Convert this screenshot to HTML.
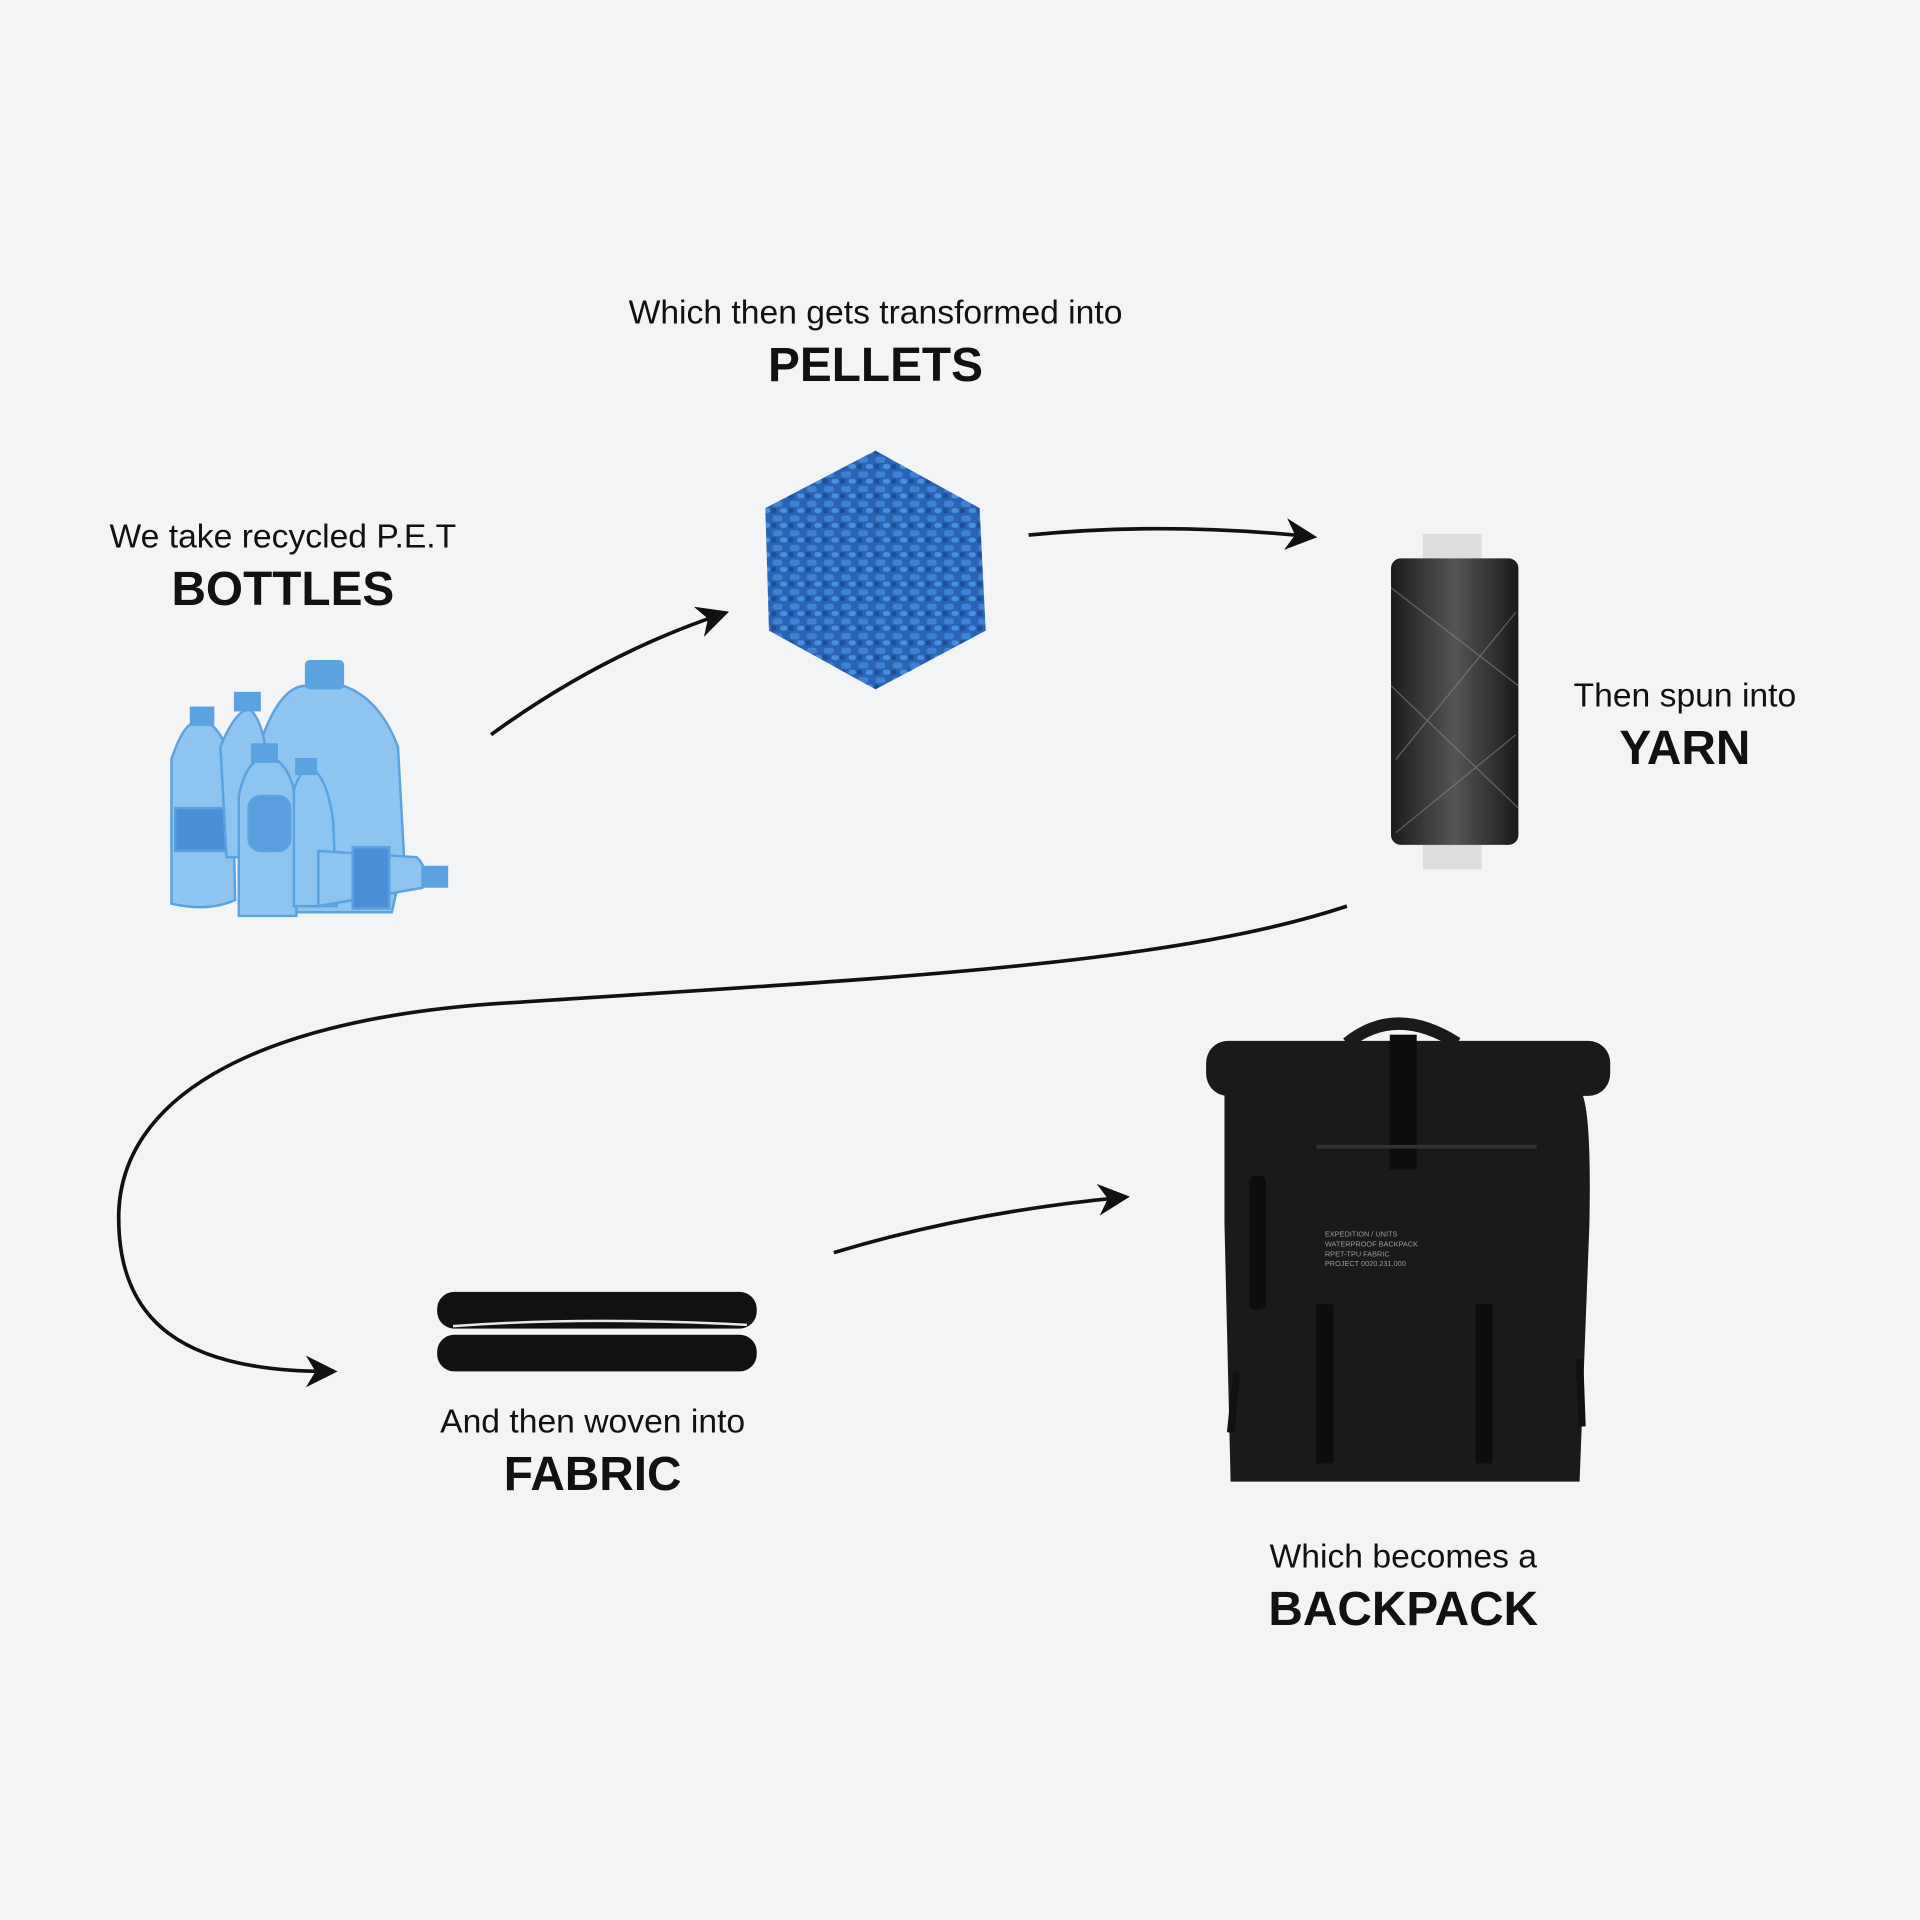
<!DOCTYPE html>
<html><head><meta charset="utf-8"><style>
html,body{margin:0;padding:0;background:#f3f4f6;}
svg{display:block}
text{font-family:"Liberation Sans",sans-serif;fill:#111;}
.s{font-size:27.5px}
.b{font-size:39px;font-weight:bold}
</style></head><body>
<svg width="1920" height="1920" viewBox="0 0 1568 1568" xmlns="http://www.w3.org/2000/svg">
<defs>
<marker id="ah" viewBox="0 0 20 20" refX="14" refY="10" markerWidth="26" markerHeight="26" markerUnits="userSpaceOnUse" orient="auto">
<path d="M0,0 L20,10 L0,20 L6,10 Z" fill="#111"/></marker>
<pattern id="pel" width="14" height="12" patternUnits="userSpaceOnUse">
<rect width="14" height="12" fill="#2a64b4"/>
<rect x="1" y="1" width="8" height="5" rx="2" fill="#3d82d6"/>
<rect x="7" y="7" width="6" height="4" rx="2" fill="#4a8fe0"/>
<rect x="0" y="7" width="4" height="4" fill="#1d4f96"/>
</pattern>
<linearGradient id="sp" x1="0" x2="1">
<stop offset="0" stop-color="#1c1c1c"/><stop offset="0.5" stop-color="#555"/><stop offset="1" stop-color="#1a1a1a"/></linearGradient>
</defs>
<rect width="1568" height="1568" fill="#f3f4f6"/>

<text x="231" y="447" class="s" text-anchor="middle">We take recycled P.E.T</text>
<text x="231" y="494" class="b" text-anchor="middle">BOTTLES</text>
<text x="715" y="264" class="s" text-anchor="middle">Which then gets transformed into</text>
<text x="715" y="311" class="b" text-anchor="middle">PELLETS</text>
<text x="1376" y="577" class="s" text-anchor="middle">Then spun into</text>
<text x="1376" y="624" class="b" text-anchor="middle">YARN</text>
<text x="484" y="1170" class="s" text-anchor="middle">And then woven into</text>
<text x="484" y="1217" class="b" text-anchor="middle">FABRIC</text>
<text x="1146" y="1280" class="s" text-anchor="middle">Which becomes a</text>
<text x="1146" y="1327" class="b" text-anchor="middle">BACKPACK</text>

<g fill="none" stroke="#111" stroke-width="3" marker-end="url(#ah)">
<path d="M401,600 Q490,535 588,502"/>
<path d="M840,437 Q950,426 1068,438"/>
<path d="M1100,740 C950,790 700,800 400,820 C200,835 100,900 97,990 C95,1080 150,1120 268,1120"/>
<path d="M681,1023 Q790,990 915,978"/>
</g>

<g fill="#8ec5f0" stroke="#5aa2e0" stroke-width="2">
<path d="M215,600 Q230,560 250,560 L280,560 Q310,570 325,610 L330,700 L320,745 L240,745 L220,700 Z"/>
<rect x="250" y="540" width="30" height="22" rx="3" fill="#5aa2e0"/>
<path d="M140,620 Q150,590 160,590 L170,590 Q185,600 190,630 L192,735 Q170,745 140,738 Z"/>
<rect x="156" y="578" width="18" height="14" fill="#5aa2e0"/>
<rect x="143" y="660" width="48" height="35" fill="#4a8fd8"/>
<path d="M180,610 Q190,585 200,580 L205,580 Q215,590 218,620 L218,700 L185,700 Z"/>
<rect x="192" y="566" width="20" height="14" fill="#5aa2e0"/>
<path d="M195,650 Q200,625 212,620 L225,620 Q240,630 242,660 L242,748 L195,748 Z"/>
<rect x="206" y="608" width="20" height="14" fill="#5aa2e0"/>
<rect x="203" y="650" width="34" height="45" rx="10" fill="#5a9ee0"/>
<path d="M240,645 Q245,630 250,630 L258,630 Q268,640 272,670 L275,740 L240,740 Z"/>
<rect x="242" y="620" width="16" height="12" fill="#5aa2e0"/>
<path d="M260,695 L340,700 Q350,708 345,725 L260,740 Z"/>
<rect x="345" y="708" width="20" height="16" fill="#5aa2e0"/>
<rect x="288" y="692" width="30" height="50" fill="#4a8fd8"/>
</g>

<polygon points="715,368 800,415 805,515 715,563 628,515 625,415" fill="url(#pel)"/>

<rect x="1162" y="436" width="48" height="22" fill="#ddd"/>
<rect x="1162" y="688" width="48" height="22" fill="#ddd"/>
<rect x="1136" y="456" width="104" height="234" rx="8" fill="url(#sp)"/>
<g stroke="#888" stroke-width="1" fill="none" opacity="0.6">
<path d="M1136,480 L1240,560 M1140,620 L1238,500 M1136,560 L1240,660 M1140,680 L1238,600"/>
</g>

<rect x="357" y="1055" width="261" height="30" rx="14" fill="#111"/>
<rect x="357" y="1090" width="261" height="30" rx="14" fill="#111"/>
<path d="M370,1083 Q480,1075 610,1082" stroke="#e8e8e8" stroke-width="2" fill="none"/>

<g fill="#1a1a1a">
<path d="M1100,852 Q1140,820 1190,852" stroke="#1a1a1a" stroke-width="10" fill="none"/>
<rect x="985" y="850" width="330" height="45" rx="18"/>
<path d="M1000,890 L1290,890 Q1300,900 1298,1000 L1290,1210 L1005,1210 L1000,1000 Z"/>
<rect x="1135" y="845" width="22" height="110" fill="#0d0d0d"/>
<rect x="1075" y="935" width="180" height="3" fill="#333"/>
<rect x="1020" y="960" width="14" height="110" rx="6" fill="#0d0d0d"/>
<rect x="1075" y="1065" width="14" height="130" fill="#0d0d0d"/>
<rect x="1205" y="1065" width="14" height="130" fill="#0d0d0d"/>
<path d="M1010,1120 L1005,1170 M1290,1110 L1292,1165" stroke="#111" stroke-width="6"/>
</g>
<g font-size="6" style="font-family:'Liberation Mono',monospace">
<text x="1082" y="1010" style="fill:#999">EXPEDITION / UNITS</text>
<text x="1082" y="1018" style="fill:#999">WATERPROOF BACKPACK</text>
<text x="1082" y="1026" style="fill:#999">RPET-TPU FABRIC</text>
<text x="1082" y="1034" style="fill:#999">PROJECT 0020.231.000</text>
</g>
</svg>
</body></html>
